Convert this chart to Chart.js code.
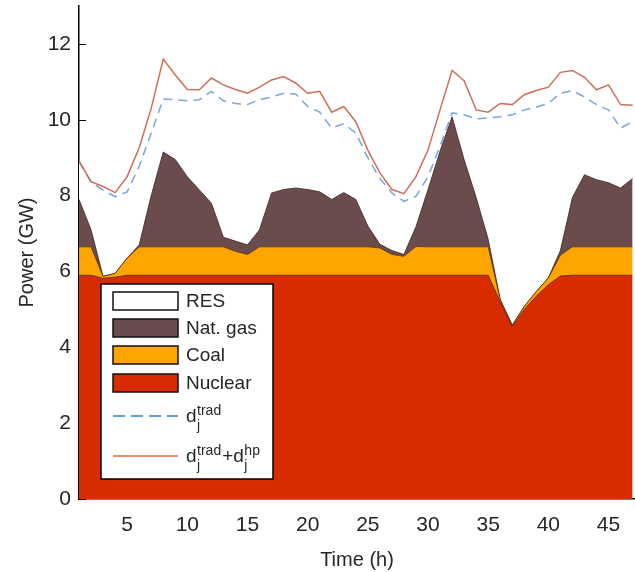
<!DOCTYPE html>
<html><head><meta charset="utf-8">
<script src="https://cdn.jsdelivr.net/npm/chart.js@4.4.1/dist/chart.umd.min.js"></script>
<style>html,body{margin:0;padding:0;background:#fff;}#wrap{width:635px;height:572px;position:relative;}</style>
</head><body><div id="wrap"><canvas id="c" width="635" height="572"></canvas></div>
<script>
const hours = [1,2,3,4,5,6,7,8,9,10,11,12,13,14,15,16,17,18,19,20,21,22,23,24,25,26,27,28,29,30,31,32,33,34,35,36,37,38,39,40,41,42,43,44,45,46,47];
const nuclear = [5.9,5.9,5.82,5.85,5.9, 5.9,5.9,5.9,5.9,5.9, 5.9,5.9,5.9,5.9,5.9, 5.9,5.9,5.9,5.9,5.9, 5.9,5.9,5.9,5.9,5.9, 5.9,5.9,5.9,5.9,5.9, 5.9,5.9,5.9,5.9,5.9, 5.2,4.55,5.0,5.35,5.65, 5.88,5.9,5.9,5.9,5.9, 5.9,5.9];
const coal = [0.75,0.75,0.05,0.1,0.45, 0.75,0.75,0.75,0.75,0.75, 0.75,0.75,0.75,0.63,0.55, 0.75,0.75,0.75,0.75,0.75, 0.75,0.75,0.75,0.75,0.75, 0.72,0.55,0.5,0.76,0.75, 0.75,0.75,0.75,0.75,0.75, 0.06,0.03,0.08,0.12,0.18, 0.55,0.75,0.75,0.75,0.75, 0.75,0.75];
const gas = [1.25,0.45,0,0,0, 0.05,1.35,2.5,2.3,1.85, 1.5,1.15,0.25,0.27,0.25, 0.45,1.42,1.51,1.55,1.51, 1.45,1.25,1.43,1.25,0.55, 0.1,0.1,0.05,0.52,1.51, 2.52,3.43,2.3,1.3,0.2, 0,0,0,0,0, 0.12,1.3,1.9,1.77,1.69, 1.55,1.8];
const res = [1.0,1.25,2.28,2.02,1.75, 2.07,1.65,1.4,1.58,2.0, 2.38,2.95,3.6,3.63,3.7, 3.43,2.53,2.54,2.48,2.19, 2.1,1.88,1.82,1.75,1.8, 1.73,1.52,1.4,0.8,0.34, 0.13,0.1,1.18,2.07,3.2, 4.82,5.55,5.18,4.86,4.6, 4.15,2.82,2.05,1.98,1.92, 1.58,1.5];
const dTrad = [8.9,8.35,8.15,7.97,8.1, 8.77,9.65,10.55,10.53,10.5, 10.53,10.75,10.5,10.43,10.4, 10.53,10.6,10.7,10.68,10.35, 10.2,9.78,9.9,9.65,9.0, 8.45,8.07,7.85,7.98,8.5, 9.3,10.18,10.13,10.02,10.05, 10.08,10.13,10.26,10.33,10.43, 10.7,10.77,10.6,10.4,10.26, 9.78,9.95];
const dTotal = [8.92,8.37,8.24,8.08,8.5, 9.26,10.3,11.6,11.18,10.8, 10.79,11.1,10.92,10.8,10.7, 10.86,11.05,11.14,10.97,10.7, 10.75,10.2,10.35,9.95,9.2, 8.6,8.16,8.05,8.5,9.2, 10.26,11.3,11.03,10.26,10.2, 10.43,10.4,10.66,10.77,10.86, 11.25,11.3,11.12,10.79,10.92, 10.4,10.38];
const yTicks = [0,2,4,6,8,10,12];
const xTicks = [5,10,15,20,25,30,35,40,45];

const FONT = "'Liberation Sans', Arial, sans-serif";
const TXT = '#262626';
const pts = arr => hours.map((h,i) => ({x:h, y:arr[i]}));
const edge = 'rgba(70,30,10,0.75)';

const innerTicks = {
  id:'innerTicks',
  beforeDatasetsDraw(chart){
    const ctx = chart.ctx, y = chart.scales.y, ca = chart.chartArea;
    ctx.save(); ctx.strokeStyle='#000'; ctx.lineWidth=1;
    yTicks.forEach(v => { const py = Math.round(y.getPixelForValue(v))+0.5; ctx.beginPath(); ctx.moveTo(ca.left, py); ctx.lineTo(ca.left+7, py); ctx.stroke(); });
    ctx.restore();
  }
};

const legendBox = {
  id:'legendBox',
  afterDraw(chart){
    const ctx = chart.ctx, ca = chart.chartArea;
    const L = ca.left + 22, T = 284, W = 172, H = 195;
    ctx.save();
    ctx.fillStyle = '#fff'; ctx.fillRect(L, T, W, H);
    ctx.strokeStyle = '#000'; ctx.lineWidth = 1.5; ctx.strokeRect(L, T, W, H);
    const px = L + 12, pw = 65, ph = 18, tx = L + 85;
    const items = [
      {label:'RES', color:'#ffffff', cy: T + 17},
      {label:'Nat. gas', color:'#6b4c4c', cy: T + 44},
      {label:'Coal', color:'#ffa500', cy: T + 71},
      {label:'Nuclear', color:'#d82b00', cy: T + 99}
    ];
    ctx.font = '19px ' + FONT; ctx.textBaseline = 'middle'; ctx.textAlign = 'left';
    items.forEach(it => {
      ctx.fillStyle = it.color; ctx.fillRect(px, it.cy - ph/2, pw, ph);
      ctx.strokeStyle = '#111'; ctx.lineWidth = 1.5; ctx.strokeRect(px, it.cy - ph/2, pw, ph);
      ctx.fillStyle = TXT; ctx.fillText(it.label, tx, it.cy + 1);
    });
    const ly1 = T + 132, ly2 = T + 172;
    ctx.lineWidth = 1.5;
    ctx.strokeStyle = '#2a7fd0'; ctx.setLineDash([12,6]);
    ctx.beginPath(); ctx.moveTo(px, ly1); ctx.lineTo(px+pw, ly1); ctx.stroke();
    ctx.setLineDash([]); ctx.strokeStyle = '#e8643a';
    ctx.beginPath(); ctx.moveTo(px, ly2); ctx.lineTo(px+pw, ly2); ctx.stroke();
    ctx.fillStyle = TXT; ctx.textBaseline = 'alphabetic';
    const big = '19px ' + FONT, small = '14px ' + FONT;
    function dsym(x, base){
      ctx.font = big; ctx.fillText('d', x, base);
      const w = ctx.measureText('d').width;
      return {x: x + w + 0.5, base};
    }
    function supsub(x, base, sup, sub){
      ctx.font = small;
      ctx.fillText(sup, x, base - 7);
      ctx.fillText(sub, x, base + 8);
      return x + Math.max(ctx.measureText(sup).width, ctx.measureText(sub).width);
    }
    let p = dsym(tx, ly1 + 6);
    supsub(p.x, ly1 + 6, 'trad', 'j');
    p = dsym(tx, ly2 + 6);
    let nx = supsub(p.x, ly2 + 6, 'trad', 'j') + 1;
    ctx.font = big; ctx.fillText('+', nx, ly2 + 6); nx += ctx.measureText('+').width;
    p = dsym(nx, ly2 + 6);
    supsub(p.x, ly2 + 6, 'hp', 'j');
    ctx.restore();
  }
};

new Chart(document.getElementById('c'), {
  type: 'line',
  data: { datasets: [
    {label:'d_j^trad+d_j^hp', data: pts(dTotal), stack:'l2', borderColor:'#cf6e58', borderWidth:1.5, fill:false, pointRadius:0, tension:0},
    {label:'d_j^trad', data: pts(dTrad), stack:'l1', borderColor:'#7aa6dc', borderWidth:1.5, borderDash:[9,6], fill:false, pointRadius:0, tension:0},
    {label:'Nuclear', data: pts(nuclear), stack:'gen', backgroundColor:'#d82b00', borderColor:edge, borderWidth:1, fill:'origin', pointRadius:0, tension:0},
    {label:'Coal', data: pts(coal), stack:'gen', backgroundColor:'#ffa500', borderColor:edge, borderWidth:1, fill:2, pointRadius:0, tension:0},
    {label:'Nat. gas', data: pts(gas), stack:'gen', backgroundColor:'#6b4c4c', borderColor:'rgba(60,35,35,0.8)', borderWidth:1, fill:3, pointRadius:0, tension:0},
    {label:'RES', data: pts(res), stack:'gen', backgroundColor:'#ffffff', borderColor:'rgba(255,255,255,0)', borderWidth:0, fill:4, pointRadius:0, tension:0}
  ]},
  options: {
    responsive:false, animation:false, devicePixelRatio:1,
    layout:{padding:{top:6, right:0, left:0, bottom:0}},
    plugins:{legend:{display:false}, tooltip:{enabled:false}},
    scales:{
      x:{type:'linear', min:1, max:47.2,
        afterBuildTicks: s => { s.ticks = xTicks.map(v => ({value:v})); },
        afterFit: s => { s.height = 73; s.paddingLeft = 0; s.paddingRight = 0; },
        grid:{display:true, drawOnChartArea:false, drawTicks:false},
        border:{display:true, color:'#000', width:1.5},
        ticks:{padding:14, color:TXT, font:{size:21, family:FONT}, maxRotation:0, autoSkip:false},
        title:{display:true, text:'Time (h)', color:TXT, font:{size:20, family:FONT}, padding:{top:2, bottom:0}}
      },
      y:{min:0, max:13, stacked:true,
        afterBuildTicks: s => { s.ticks = yTicks.map(v => ({value:v})); },
        afterFit: s => { s.width = 79; s.paddingTop = 0; s.paddingBottom = 0; },
        grid:{display:true, drawOnChartArea:false, drawTicks:false},
        border:{display:true, color:'#000', width:1.5},
        ticks:{padding:8, color:TXT, font:{size:21, family:FONT}},
        title:{display:true, text:'Power (GW)', color:TXT, font:{size:20, family:FONT}, padding:{top:15, bottom:0}}
      }
    }
  },
  plugins:[innerTicks, legendBox]
});
</script></body></html>
